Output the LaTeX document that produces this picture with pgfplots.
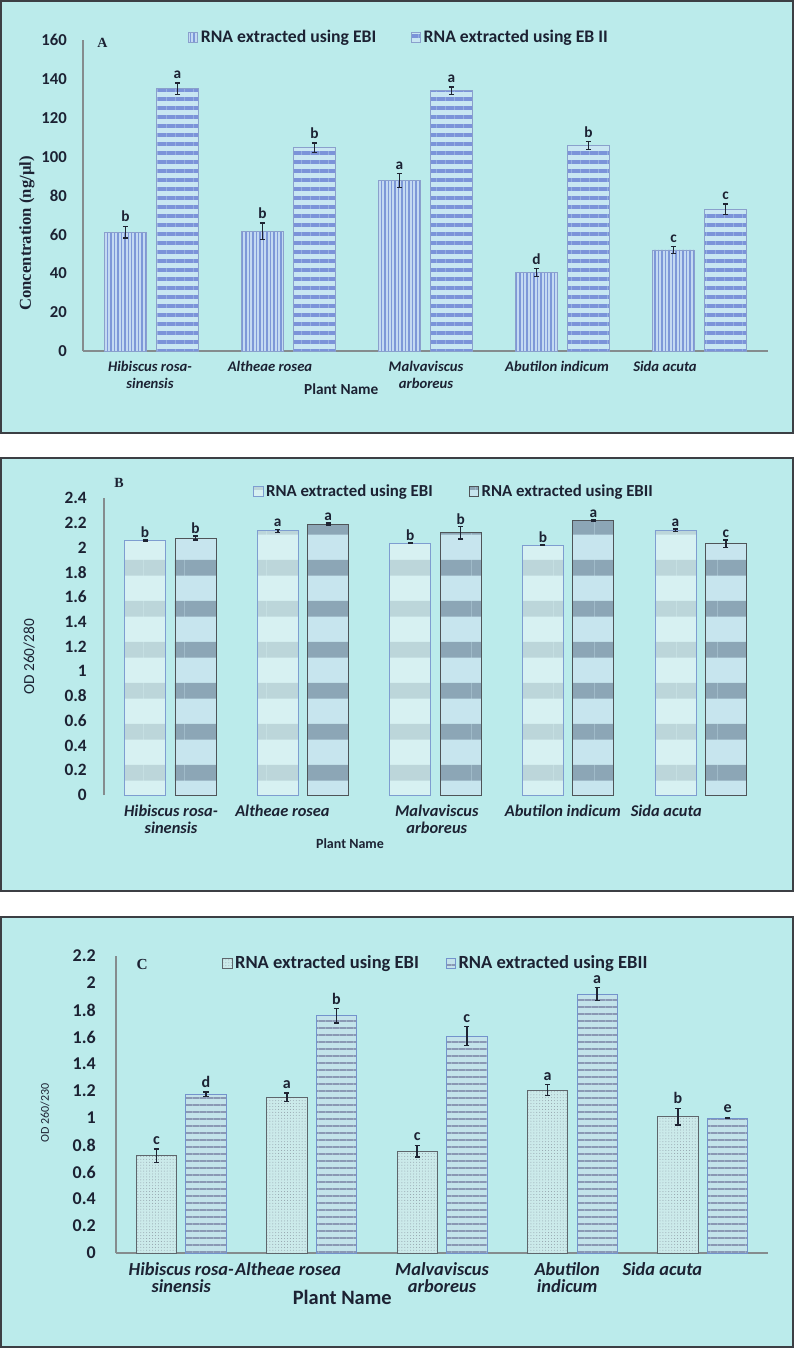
\documentclass[border=0pt]{standalone}
\usepackage{fontspec}
\setmainfont{Carlito}
\newfontfamily\serifbf{Liberation Serif}
\usepackage{pgfplots}
\pgfplotsset{compat=1.18}
\usepackage{pgfplotstable}
\usetikzlibrary{patterns.meta}

\definecolor{panelbg}{HTML}{BBEBEB}
\definecolor{frame}{HTML}{3C3F44}
\definecolor{axiscol}{HTML}{858C8E}
\definecolor{txt}{HTML}{1C2233}
\definecolor{errcol}{HTML}{1F2433}
% panel A
\definecolor{aIfill}{HTML}{C3DAF2}
\definecolor{aIline}{HTML}{7D98D8}
\definecolor{aIIfill}{HTML}{C8E6F2}
\definecolor{aIIline}{HTML}{7B93D9}
\definecolor{aBorder}{HTML}{8AA0CC}
% panel B
\definecolor{bIfill}{HTML}{D7F1F2}
\definecolor{bIband}{HTML}{BCD6DA}
\definecolor{bIIfill}{HTML}{C7E5EE}
\definecolor{bIIband}{HTML}{8CA6B6}
\definecolor{bIborder}{HTML}{7E9DD0}
\definecolor{bIIborder}{HTML}{4F5458}
% panel C
\definecolor{cIfill}{HTML}{CBEAEA}
\definecolor{cIdot}{HTML}{8E9CA6}
\definecolor{cIIfill}{HTML}{C3E3EA}
\definecolor{cIIline}{HTML}{8A98B4}
\definecolor{cIborder}{HTML}{5E666C}
\definecolor{cIIborder}{HTML}{7393CC}

% ---- data: x = category, y = mean, err = +- , lab = letter
\pgfplotstableread{
x   y     err  lab
0.5 61.2  3.0  b
1.5 61.6  4.2  b
2.5 87.6  3.6  a
3.5 40.3  2.1  d
4.5 52.0  1.7  c
}\tabAI
\pgfplotstableread{
x   y     err  lab
0.5 134.9 3.0  a
1.5 104.6 2.4  b
2.5 133.9 2.0  a
3.5 105.6 2.1  b
4.5 72.9  2.8  c
}\tabAII
\pgfplotstableread{
x   y     err   lab
0.5 2.055 0.005 b
1.5 2.136 0.012 a
2.5 2.034 0.004 b
3.5 2.020 0.004 b
4.5 2.140 0.010 a
}\tabBI
\pgfplotstableread{
x   y     err   lab
0.5 2.077 0.015 b
1.5 2.190 0.008 a
2.5 2.120 0.050 b
3.5 2.217 0.006 a
4.5 2.030 0.030 c
}\tabBII
\pgfplotstableread{
x   y     err   lab
0.5 0.720 0.050 c
1.5 1.153 0.033 a
2.5 0.755 0.043 c
3.5 1.207 0.040 a
4.5 1.010 0.062 b
}\tabCI
\pgfplotstableread{
x   y     err   lab
0.5 1.175 0.018 d
1.5 1.758 0.053 b
2.5 1.607 0.070 c
3.5 1.918 0.047 a
4.5 1.000 0.005 e
}\tabCII

\pgfplotsset{
  panel/.style={
    scale only axis, anchor=south west,
    xmin=0, xmax=5, ymin=0, clip=false,
    axis x line*=bottom, axis y line*=left,
    axis line style={draw=axiscol, line width=0.9pt},
    major tick length=0pt,
    /pgf/number format/assume math mode=true,
    ylabel style={anchor=center, text=txt},
    xlabel style={anchor=center, text=txt},
    xticklabel style={align=center, anchor=north, text=txt},
    yticklabel style={anchor=east, inner sep=0pt, text=txt},
    legend style={draw=none, fill=none, legend columns=2, anchor=west,
      inner sep=0pt, text=txt},
    legend cell align=left,
  },
  boxlegend/.style={legend image code/.code={%
    \draw[##1] (0pt,-3.75pt) rectangle (7pt,3.75pt);}},
  % #1 bar width, #2 half distance between the two bars of a group
  barI/.style 2 args={ybar, bar width=#1, bar shift=-#2},
  barII/.style 2 args={ybar, bar width=#1, bar shift=#2},
  errplot/.style={draw=none, mark=none, forget plot,
    error bars/y dir=both, error bars/y explicit,
    error bars/error bar style={solid, line width=1.2pt, draw=errcol},
    error bars/error mark options={rotate=90, mark size=1.9pt,
      line width=1pt, draw=errcol}},
  letters/.style 2 args={draw=none, mark=none, forget plot, nodes near coords,
    point meta=explicit symbolic,
    nodes near coords style={anchor=south, inner sep=#2, text=txt,
      font=\bfseries\fontsize{#1}{#1}\selectfont}},
}

\begin{document}
\begin{tikzpicture}
% picture size: 795 x 1350 px at 0.75pt per px
\path (0pt,0pt) rectangle (596.25pt,-1012.5pt);
\filldraw[fill=panelbg, draw=frame, line width=1.1pt]
  (0.75pt,-0.75pt) rectangle (594.75pt,-324.75pt);
\filldraw[fill=panelbg, draw=frame, line width=1.1pt]
  (0.75pt,-343.5pt) rectangle (594.75pt,-668.25pt);
\filldraw[fill=panelbg, draw=frame, line width=1.1pt]
  (0.75pt,-687.75pt) rectangle (594.75pt,-1010.25pt);

%================ A: concentration
\begin{axis}[panel,
  at={(62.25pt,-263.25pt)}, width=513.75pt, height=233.25pt,
  ymax=160, ytick={0,20,40,60,80,100,120,140,160},
  yticklabel style={xshift=-12pt, font=\bfseries\fontsize{12.5}{14}\selectfont},
  xtick={0.489,1.365,2.504,3.46,4.248},
  xticklabels={{Hibiscus rosa-\\sinensis},{Altheae rosea},{Malvaviscus\\arboreus},{Abutilon indicum},{Sida acuta}},
  xticklabel style={yshift=-4pt, font=\bfseries\itshape\fontsize{11}{12.5}\selectfont},
  xlabel={Plant Name},
  xlabel style={at={(axis description cs:0.377,-0.122)},
    font=\bfseries\fontsize{11.5}{13}\selectfont},
  ylabel={Concentration (ng/µl)},
  ylabel style={at={(axis description cs:-0.082,0.378)},
    font=\serifbf\bfseries\fontsize{12.5}{15}\selectfont},
  legend style={at={(axis description cs:0.153,1.0096)},
    font=\bfseries\fontsize{13.25}{15}\selectfont,
    /tikz/every even column/.append style={column sep=24pt}},
]
\addplot[barI={31.9pt}{19.5pt}, boxlegend, fill=aIfill, draw=aBorder, line width=0.6pt,
  postaction={pattern={Lines[angle=90,distance=2.6pt,line width=1.1pt]}, pattern color=aIline}]
  table[x=x, y=y] {\tabAI};
\addlegendentry{RNA extracted using EBI}
\addplot[barII={31.9pt}{19.5pt}, boxlegend, fill=aIIfill, draw=aBorder, line width=0.6pt,
  postaction={pattern={Lines[angle=0,distance=6.75pt,line width=2.3pt]}, pattern color=aIIline}]
  table[x=x, y=y] {\tabAII};
\addlegendentry{RNA extracted using EB II}
\addplot[errplot] table[x expr=\thisrow{x}-0.19, y=y, y error=err] {\tabAI};
\addplot[errplot] table[x expr=\thisrow{x}+0.19, y=y, y error=err] {\tabAII};
\addplot[letters={11.5}{3pt}] table[x expr=\thisrow{x}-0.19, y expr=\thisrow{y}+\thisrow{err}, meta=lab] {\tabAI};
\addplot[letters={11.5}{3pt}] table[x expr=\thisrow{x}+0.19, y expr=\thisrow{y}+\thisrow{err}, meta=lab] {\tabAII};
\node[font=\serifbf\bfseries\fontsize{10.5}{12}\selectfont, text=txt]
  at (axis description cs:0.0285,0.992) {A};
\end{axis}

%================ B: OD 260/280
\begin{axis}[panel,
  at={(78pt,-596.25pt)}, width=497.25pt, height=222.75pt,
  ymax=2.4, ytick={0,0.2,0.4,0.6,0.8,1,1.2,1.4,1.6,1.8,2,2.2,2.4},
  yticklabels={0,0.2,0.4,0.6,0.8,1,1.2,1.4,1.6,1.8,2,2.2,2.4},
  x axis line style={draw=none},
  yticklabel style={xshift=-12.75pt, font=\bfseries\fontsize{13}{15}\selectfont},
  xtick={0.505,1.346,2.51,3.46,4.24},
  xticklabels={{Hibiscus rosa-\\sinensis},{Altheae rosea},{Malvaviscus\\arboreus},{Abutilon indicum},{Sida acuta}},
  xticklabel style={yshift=-4pt, font=\bfseries\itshape\fontsize{12.3}{12.5}\selectfont},
  xlabel={Plant Name},
  xlabel style={at={(axis description cs:0.371,-0.165)},
    font=\bfseries\fontsize{10.5}{12}\selectfont},
  ylabel={OD 260/280},
  ylabel style={at={(axis description cs:-0.113,0.465)},
    font=\fontsize{11.5}{13}\selectfont},
  legend style={at={(axis description cs:0.2247,1.022)},
    font=\bfseries\fontsize{12.6}{14}\selectfont,
    /tikz/every even column/.append style={column sep=25pt}},
]
\addplot[barI={30.8pt}{18.9pt}, boxlegend, fill=bIfill, draw=bIborder, line width=0.6pt,
  postaction={pattern={Lines[angle=0,distance=31pt,line width=12pt]}, pattern color=bIband}]
  table[x=x, y=y] {\tabBI};
\addlegendentry{RNA extracted using EBI}
\addplot[barII={30.8pt}{18.9pt}, boxlegend, fill=bIIfill, draw=bIIborder, line width=0.6pt,
  postaction={pattern={Lines[angle=0,distance=31pt,line width=12pt]}, pattern color=bIIband}]
  table[x=x, y=y] {\tabBII};
\addlegendentry{RNA extracted using EBII}
\addplot[errplot] table[x expr=\thisrow{x}-0.19, y=y, y error=err] {\tabBI};
\addplot[errplot] table[x expr=\thisrow{x}+0.19, y=y, y error=err] {\tabBII};
\addplot[letters={11.5}{1.5pt}] table[x expr=\thisrow{x}-0.19, y expr=\thisrow{y}+\thisrow{err}, meta=lab] {\tabBI};
\addplot[letters={11.5}{1.5pt}] table[x expr=\thisrow{x}+0.19, y expr=\thisrow{y}+\thisrow{err}, meta=lab] {\tabBII};
\node[font=\serifbf\bfseries\fontsize{10.5}{12}\selectfont, text=txt]
  at (axis description cs:0.0226,1.05) {B};
\end{axis}

%================ C: OD 260/230
\begin{axis}[panel,
  at={(87pt,-939.75pt)}, width=489pt, height=222.75pt,
  ymax=2.2, ytick={0,0.2,0.4,0.6,0.8,1,1.2,1.4,1.6,1.8,2,2.2},
  yticklabels={0,0.2,0.4,0.6,0.8,1,1.2,1.4,1.6,1.8,2,2.2},
  yticklabel style={xshift=-15pt, font=\bfseries\fontsize{13.5}{15}\selectfont},
  xtick={0.5,1.32,2.5,3.46,4.19},
  xticklabels={{Hibiscus rosa-\\sinensis},{Altheae rosea},{Malvaviscus\\arboreus},{Abutilon\\indicum},{Sida acuta}},
  xticklabel style={yshift=-4pt, font=\bfseries\itshape\fontsize{13.8}{12.5}\selectfont},
  xlabel={Plant Name},
  xlabel style={at={(axis description cs:0.347,-0.148)},
    font=\bfseries\fontsize{15.3}{17}\selectfont},
  ylabel={OD 260/230},
  ylabel style={at={(axis description cs:-0.109,0.471)},
    font=\fontsize{9}{11}\selectfont},
  legend style={at={(axis description cs:0.1626,0.976)},
    font=\bfseries\fontsize{13.9}{15}\selectfont,
    /tikz/every even column/.append style={column sep=18pt}},
]
\addplot[barI={30.3pt}{18.6pt}, boxlegend, fill=cIfill, draw=cIborder, line width=0.6pt,
  postaction={pattern={Dots[distance=2.2pt,radius=0.35pt]}, pattern color=cIdot}]
  table[x=x, y=y] {\tabCI};
\addlegendentry{RNA extracted using EBI}
\addplot[barII={30.3pt}{18.6pt}, boxlegend, fill=cIIfill, draw=cIIborder, line width=0.6pt,
  postaction={pattern={Lines[angle=0,distance=5.25pt,line width=1.4pt]}, pattern color=cIIline}]
  table[x=x, y=y] {\tabCII};
\addlegendentry{RNA extracted using EBII}
\addplot[errplot] table[x expr=\thisrow{x}-0.19, y=y, y error=err] {\tabCI};
\addplot[errplot] table[x expr=\thisrow{x}+0.19, y=y, y error=err] {\tabCII};
\addplot[letters={12}{3pt}] table[x expr=\thisrow{x}-0.19, y expr=\thisrow{y}+\thisrow{err}, meta=lab] {\tabCI};
\addplot[letters={12}{3pt}] table[x expr=\thisrow{x}+0.19, y expr=\thisrow{y}+\thisrow{err}, meta=lab] {\tabCII};
\node[font=\serifbf\bfseries\fontsize{11.5}{13}\selectfont, text=txt]
  at (axis description cs:0.04,0.973) {C};
\end{axis}
\end{tikzpicture}
\end{document}
